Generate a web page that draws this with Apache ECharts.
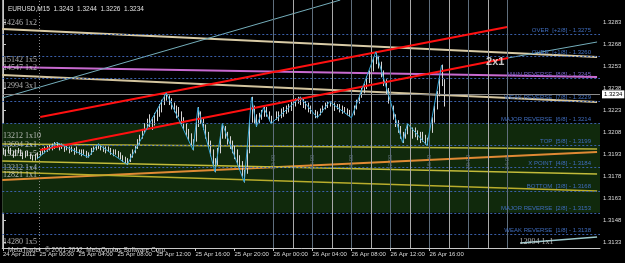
<!DOCTYPE html>
<html>
<head>
<meta charset="utf-8">
<script src="https://cdn.jsdelivr.net/npm/echarts@6/dist/echarts.min.js"></script>
<style>
  html, body { margin: 0; padding: 0; background: #000; }
  #chart { width: 625px; height: 263px; }
</style>
</head>
<body>
<div id="chart"></div>
<script>
// ==================== 数据 ====================

// M15 bars, index 0 = 24 Apr 20:15
var barLow = [
  1.3193,1.3192,1.3194,1.3193,1.3191,1.3192,1.3194,1.3192,1.3190,1.3191,
  1.3192,1.3190,1.3189,1.3189,1.3190,1.3192,1.3193,1.3194,1.3195,1.3196,
  1.3196,1.3197,1.3198,1.3196,1.3197,1.3195,1.3196,1.3194,1.3195,1.3193,
  1.3194,1.3193,1.3192,1.3193,1.3191,1.3191,1.3193,1.3195,1.3196,1.3197,
  1.3196,1.3195,1.3194,1.3195,1.3193,1.3192,1.3193,1.3191,1.3190,1.3188,
  1.3187,1.3186,1.3188,1.3191,1.3194,1.3197,1.3200,1.3204,1.3208,1.3210,
  1.3212,1.3210,1.3213,1.3216,1.3219,1.3222,1.3227,1.3230,1.3227,1.3224,
  1.3222,1.3218,1.3219,1.3214,1.3210,1.3206,1.3203,1.3199,1.3196,1.3202,
  1.3212,1.3214,1.3210,1.3204,1.3198,1.3192,1.3186,1.3181,1.3186,1.3194,
  1.3204,1.3204,1.3200,1.3197,1.3194,1.3190,1.3186,1.3183,1.3178,1.3174,
  1.3180,1.3194,1.3215,1.3214,1.3212,1.3214,1.3217,1.3219,1.3219,1.3216,
  1.3214,1.3215,1.3217,1.3216,1.3218,1.3219,1.3221,1.3222,1.3223,1.3225,
  1.3226,1.3228,1.3227,1.3225,1.3224,1.3222,1.3221,1.3219,1.3218,1.3218,
  1.3220,1.3222,1.3224,1.3225,1.3226,1.3224,1.3223,1.3224,1.3222,1.3221,
  1.3222,1.3220,1.3219,1.3218,1.3220,1.3224,1.3228,1.3232,1.3235,1.3238,
  1.3242,1.3246,1.3250,1.3255,1.3252,1.3246,1.3240,1.3234,1.3228,1.3222,
  1.3217,1.3212,1.3208,1.3204,1.3201,1.3204,1.3207,1.3206,1.3204,1.3205,
  1.3203,1.3201,1.3202,1.3200,1.3199,1.3202,1.3208,1.3215,1.3224,1.3233,
  1.3240,1.3226
];
var barHigh = [
  1.3197,1.3196,1.3198,1.3197,1.3195,1.3196,1.3197,1.3196,1.3194,1.3195,
  1.3195,1.3193,1.3192,1.3193,1.3194,1.3195,1.3197,1.3198,1.3199,1.3199,
  1.3200,1.3201,1.3201,1.3200,1.3200,1.3199,1.3199,1.3198,1.3198,1.3197,
  1.3198,1.3196,1.3196,1.3196,1.3195,1.3194,1.3197,1.3198,1.3199,1.3200,
  1.3199,1.3198,1.3198,1.3198,1.3197,1.3196,1.3196,1.3195,1.3194,1.3192,
  1.3191,1.3190,1.3193,1.3196,1.3199,1.3203,1.3206,1.3210,1.3214,1.3217,
  1.3220,1.3218,1.3221,1.3224,1.3227,1.3230,1.3233,1.3235,1.3233,1.3231,
  1.3228,1.3226,1.3225,1.3222,1.3218,1.3214,1.3210,1.3207,1.3203,1.3215,
  1.3225,1.3222,1.3218,1.3213,1.3208,1.3202,1.3196,1.3190,1.3197,1.3206,
  1.3214,1.3212,1.3208,1.3205,1.3202,1.3199,1.3196,1.3192,1.3188,1.3182,
  1.3196,1.3216,1.3232,1.3226,1.3220,1.3221,1.3223,1.3225,1.3225,1.3222,
  1.3219,1.3220,1.3222,1.3222,1.3224,1.3225,1.3226,1.3227,1.3229,1.3230,
  1.3231,1.3232,1.3232,1.3231,1.3229,1.3228,1.3226,1.3224,1.3223,1.3222,
  1.3224,1.3226,1.3228,1.3229,1.3229,1.3228,1.3228,1.3227,1.3227,1.3226,
  1.3225,1.3224,1.3223,1.3222,1.3226,1.3230,1.3234,1.3238,1.3241,1.3246,
  1.3250,1.3254,1.3259,1.3263,1.3260,1.3256,1.3250,1.3244,1.3238,1.3232,
  1.3226,1.3220,1.3216,1.3212,1.3208,1.3210,1.3214,1.3212,1.3211,1.3211,
  1.3209,1.3208,1.3208,1.3206,1.3204,1.3210,1.3218,1.3226,1.3236,1.3246,
  1.3254,1.3244
];

// ZigZag 顶点（bar 序号 / 价格）
var zzIdx   = [14, 22, 35, 39, 51, 67, 78, 80, 87, 90, 99, 102, 104, 107, 110, 122, 129, 134, 143, 153, 164, 166, 174, 180];
var zzPrice = [1.3190, 1.3201, 1.3191, 1.3200, 1.3186, 1.3235, 1.3196, 1.3225, 1.3181, 1.3214, 1.3174, 1.3232,
               1.3212, 1.3225, 1.3214, 1.3232, 1.3218, 1.3229, 1.3218, 1.3263, 1.3201, 1.3214, 1.3199, 1.3254];

var lastPrice = 1.3234;

// Murrey Math 水平线
var mmLevels = [1.3275, 1.3260, 1.3245, 1.3229, 1.3214, 1.3199, 1.3184, 1.3168, 1.3153, 1.3138];
var mmNames  = ['OVER  [+2/8]', 'OVER  [+1/8]', 'MAIN REVERSE  [8/8]', 'WEAK REVERSE  [7/8]', 'MAJOR REVERSE  [6/8]',
                'TOP  [5/8]', 'X POINT  [4/8]', 'BOTTOM  [3/8]', 'MAJOR REVERSE  [2/8]', 'WEAK REVERSE  [1/8]'];
var mmZone   = [1.3214, 1.3153];

// Gann 线（起点 / 终点：bar 序号, 价格）
var gannTop1x2   = [[-0.3, 1.32787], [243.8, 1.32595]];
var gannMagenta  = [[-0.3, 1.32527], [243.8, 1.32459]];
var gann3x1      = [[-0.3, 1.32472], [243.8, 1.32288]];
var gannSteep    = [[-0.3, 1.32315], [138.4, 1.32985]];
var chanUpper    = [[15.3, 1.32185], [206.9, 1.32801]];
var chanLower    = [[15.3, 1.31959], [207.3, 1.32589]];
var gann2x1Tail  = [[207.3, 1.32589], [243.8, 1.32698]];
var gann1x1Low   = [[212.2, 1.31323], [243.8, 1.31364]];
var gann1x10     = [[-0.3, 1.32000], [243.8, 1.31966]];
var gann1x5      = [[-0.3, 1.31884], [243.8, 1.31795]];
var gann1x4      = [[-0.3, 1.31809], [243.8, 1.31679]];
var gannOrange   = [[-0.3, 1.31754], [243.8, 1.31946]];

// 文本标注
var annText  = ['14246 1x2', '15142 1x5', '14547 1x2', '12994 3x1', '13212 1x10', '13694 2x1',
                '13212 1x5', '13212 1x4', '12821 1x1', '14280 1x5', '12994 1x1'];
var annIdx   = [0, 0, 0, 0, 0, 0, 0, 0, 0, 0, 212];
var annPrice = [1.32830, 1.32575, 1.32520, 1.32397, 1.32055, 1.31994, 1.31932, 1.31836, 1.31788, 1.31330, 1.31331];
var bigLabel = { text: '2x1', idx: 202, price: 1.32561 };

// 时间线
var vLineIdx   = [111, 119, 127, 135, 143, 151, 159, 167, 175, 183, 191, 199, 207];
var vLabelIdx  = [111, 127, 143, 159, 175, 191, 207];
var vLabelText = ['00:00', '04:00', '08:00', '12:00', '16:00', '20:00', '24:00'];
var vLabelPrice = 1.31911;

// 坐标轴刻度
var xTickIdx    = [0, 15, 31, 47, 63, 79, 95, 111, 127, 143, 159, 175];
var xTickLabels = ['24 Apr 2012', '25 Apr 00:00', '25 Apr 04:00', '25 Apr 08:00', '25 Apr 12:00', '25 Apr 16:00',
                   '25 Apr 20:00', '26 Apr 00:00', '26 Apr 04:00', '26 Apr 08:00', '26 Apr 12:00', '26 Apr 16:00'];
var yTicks      = [1.3133, 1.3148, 1.3163, 1.3178, 1.3193, 1.3208, 1.3223, 1.3238, 1.3253, 1.3268, 1.3283];

var Y_MIN = 1.31289, Y_MAX = 1.329853;
var X_MIN = -0.3, X_MAX = 245;

// ==================== 图表 ====================

var FONT = 'Liberation Sans';
var chart = echarts.init(document.getElementById('chart'), null, { renderer: 'canvas' });

function gannLine(pts, color, width, z) {
  return {
    type: 'line', data: pts, symbol: 'none', silent: true, animation: false,
    lineStyle: { color: color, width: width }, z: z || 3
  };
}

function renderBar(params, api) {
  var i = api.value(0);
  var lo = api.coord([i, api.value(1)]);
  var hi = api.coord([i, api.value(2)]);
  var x = Math.round(lo[0]) + 0.5;
  return {
    type: 'line',
    shape: { x1: x, y1: lo[1] + 0.5, x2: x, y2: hi[1] - 0.5 },
    style: { stroke: '#d4d4d4', lineWidth: 1 }
  };
}

var barData = barLow.map(function (lo, i) { return [i, lo, barHigh[i]]; });
var zzData  = zzIdx.map(function (ix, k) { return [ix, zzPrice[k]]; });

var mmLines = mmLevels.map(function (v, k) {
  return {
    yAxis: v,
    label: {
      formatter: mmNames[k] + ' - ' + v.toFixed(4),
      color: k === 2 ? '#7563c8' : '#3f6cbc'
    }
  };
});

var vLines = vLineIdx.map(function (ix) {
  var major = vLabelIdx.indexOf(ix) >= 0;
  return { xAxis: ix, lineStyle: { color: major ? '#5f6e7c' : '#a9a9a9', type: 'solid', width: 1 } };
});
vLines.push({ xAxis: 15, lineStyle: { color: '#8a8a8a', type: [1, 2], width: 1 } });

chart.setOption({
  backgroundColor: '#000000',
  animation: false,
  title: [
    {
      text: 'EURUSD,M15  1.3243  1.3244  1.3226  1.3234',
      left: 3, top: 1,
      textStyle: { color: '#e0e0e0', fontSize: 6.5, fontWeight: 'normal', fontFamily: FONT }
    },
    {
      text: 'MetaTrader  © 2001-2012, MetaQuotes Software Corp.',
      left: 3, top: 242,
      textStyle: { color: '#cfcfcf', fontSize: 6.5, fontWeight: 'normal', fontFamily: FONT }
    }
  ],
  grid: { left: 2, right: 25, top: 0, bottom: 15 },
  xAxis: {
    type: 'value', min: X_MIN, max: X_MAX,
    axisLine: { show: true, lineStyle: { color: '#c8c8c8' } },
    axisTick: { show: true, customValues: xTickIdx, length: 3, lineStyle: { color: '#c8c8c8' } },
    axisLabel: {
      customValues: xTickIdx, align: 'left', margin: 3,
      color: '#dadada', fontSize: 6, fontFamily: FONT,
      formatter: function (v) {
        var k = xTickIdx.indexOf(Math.round(v));
        return k >= 0 ? xTickLabels[k] : '';
      }
    },
    splitLine: { show: false }
  },
  yAxis: [
    {
      type: 'value', position: 'right', min: Y_MIN, max: Y_MAX, scale: true,
      axisLine: { show: true, lineStyle: { color: '#c8c8c8' } },
      axisTick: { show: true, customValues: yTicks, length: 3, lineStyle: { color: '#c8c8c8' } },
      axisLabel: {
        customValues: yTicks, margin: 3,
        color: '#dadada', fontSize: 6, fontFamily: FONT,
        formatter: function (v) { return v.toFixed(4); }
      },
      splitLine: { show: false }
    },
    {
      type: 'value', position: 'left', min: Y_MIN, max: Y_MAX, scale: true,
      axisLine: { show: true, lineStyle: { color: '#9a9a9a' } },
      axisTick: { show: false }, axisLabel: { show: false }, splitLine: { show: false }
    }
  ],
  series: [
    // Murrey 区域与水平线
    {
      type: 'line', data: [], silent: true, z: 1,
      markArea: {
        silent: true, precision: 5,
        itemStyle: { color: '#10290c' },
        data: [[{ yAxis: mmZone[0] }, { yAxis: mmZone[1] }]]
      },
      markLine: {
        silent: true, symbol: 'none', precision: 5,
        lineStyle: { color: '#3a5fa8', type: [2, 2], width: 1 },
        label: { position: 'insideEndTop', distance: [9, 1], fontSize: 6, fontFamily: FONT },
        data: mmLines
      }
    },
    // 时间竖线
    {
      type: 'line', data: [], silent: true, z: 1,
      markLine: { silent: true, symbol: 'none', precision: 3, label: { show: false }, data: vLines }
    },
    {
      type: 'scatter', symbolSize: 0, silent: true, z: 2,
      data: vLabelIdx.map(function (ix) { return [ix, vLabelPrice]; }),
      label: {
        show: true, rotate: 90, position: 'inside', offset: [-5, 0],
        color: '#6f7f8f', fontSize: 6, fontFamily: FONT,
        formatter: function (p) { return vLabelText[p.dataIndex]; }
      }
    },
    // Gann 线
    gannLine(gannOrange, '#e08a34', 2, 3),
    gannLine(gann1x4, '#b9ad2c', 1.5, 3),
    gannLine(gann1x5, '#c2bb3a', 1.5, 3),
    gannLine(gann1x10, '#b8b23a', 1.5, 3),
    gannLine(gannTop1x2, '#d9cba6', 2, 3),
    gannLine(gann3x1, '#d3c49e', 2, 3),
    gannLine(gannMagenta, '#c86ad0', 2, 3),
    gannLine(gannSteep, '#74aebb', 1, 3),
    gannLine(gann2x1Tail, '#74aebb', 1, 3),
    gannLine(gann1x1Low, '#9cc8cc', 1.5, 3),
    // 价格柱
    {
      type: 'custom', renderItem: renderBar, data: barData, silent: true, z: 4,
      encode: { x: 0, y: [1, 2] },
      markLine: {
        silent: true, symbol: 'none', precision: 5,
        lineStyle: { color: '#8c8c8c', type: 'solid', width: 1 },
        label: {
          position: 'end', distance: 2, formatter: lastPrice.toFixed(4),
          backgroundColor: '#ffffff', color: '#000000', padding: [1, 2],
          fontSize: 6, fontFamily: FONT
        },
        data: [{ yAxis: lastPrice }]
      }
    },
    gannLine(chanUpper, '#ff1010', 2, 5),
    gannLine(chanLower, '#ff1010', 2, 5),
    // ZigZag
    {
      type: 'line', data: zzData, symbol: 'none', silent: true, z: 6,
      lineStyle: { color: '#36a6d6', width: 1 }
    },
    // 标注文本
    {
      type: 'scatter', symbolSize: 0, silent: true, z: 7,
      data: annIdx.map(function (ix, k) { return [ix, annPrice[k]]; }),
      label: {
        show: true, position: 'right', distance: 0,
        color: '#d8d8d8', fontSize: 8, fontFamily: 'Liberation Serif',
        formatter: function (p) { return annText[p.dataIndex]; }
      }
    },
    {
      type: 'scatter', symbolSize: 0, silent: true, z: 7,
      data: [[bigLabel.idx, bigLabel.price]],
      label: {
        show: true, position: 'inside',
        color: '#f0f0f0', fontSize: 11, fontWeight: 'bold', fontFamily: FONT,
        formatter: bigLabel.text
      }
    }
  ]
});

window.addEventListener('resize', function () { chart.resize(); });
</script>
</body>
</html>
